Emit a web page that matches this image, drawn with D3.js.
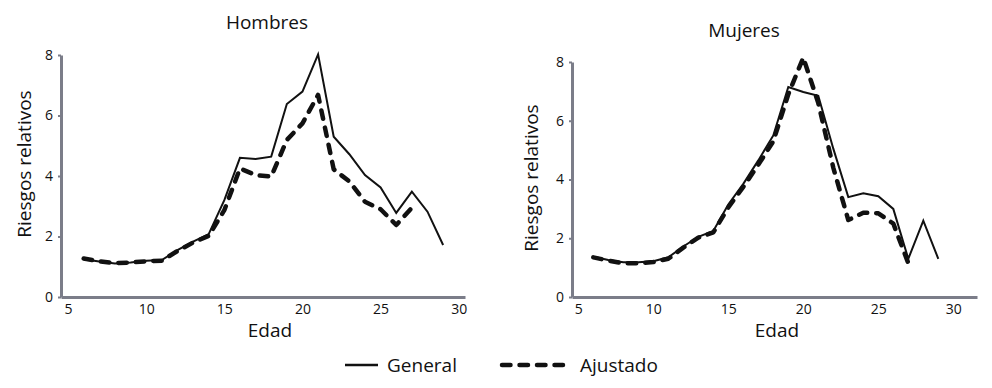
<!DOCTYPE html>
<html><head><meta charset="utf-8">
<script src="https://cdn.jsdelivr.net/npm/d3@7/dist/d3.min.js"></script>
<style>
body{margin:0;background:#fff}
text{font-family:"Open Sans",sans-serif;fill:#111}
</style>
</head><body>
<svg id="chart" width="992" height="388"></svg>
<script>
// ---- data ----
const agesGeneral  = [6,7,8,9,10,11,12,13,14,15,16,17,18,19,20,21,22,23,24,25,26,27,28,29];
const agesAjustado = [6,7,8,9,10,11,12,13,14,15,16,17,18,19,20,21,22,23,24,25,26,27];
const hombresGeneral  = [1.25,1.17,1.11,1.14,1.20,1.22,1.55,1.83,2.08,3.20,4.60,4.56,4.64,6.38,6.79,8.02,5.30,4.72,4.03,3.62,2.78,3.48,2.82,1.72];
const hombresAjustado = [1.27,1.18,1.12,1.14,1.18,1.20,1.52,1.80,2.02,2.87,4.25,4.03,3.98,5.19,5.74,6.68,4.22,3.82,3.15,2.90,2.38,2.95];
const mujeresGeneral  = [1.37,1.26,1.18,1.18,1.22,1.35,1.72,2.05,2.25,3.15,3.85,4.65,5.50,7.15,6.98,6.85,5.05,3.40,3.53,3.43,3.00,1.30,2.60,1.30];
const mujeresAjustado = [1.35,1.24,1.15,1.15,1.19,1.30,1.68,2.02,2.20,3.05,3.75,4.50,5.30,6.90,8.15,6.60,4.40,2.62,2.87,2.85,2.50,1.15];
const xTicks = [5,10,15,20,25,30];
const yTicks = [0,2,4,6,8];
const panelTitles = ["Hombres","Mujeres"];
const seriesNames = ["General","Ajustado"];
const xTitle = "Edad";
const yTitle = "Riesgos relativos";

const svg = d3.select("#chart");
const axisColor = "#7b7d89";

const panels = [
  {title: panelTitles[0], gen: hombresGeneral, adj: hombresAjustado,
   xr:[61,465], xd:[4.55,30.4], yr:[297,55], tx:267, ty:29, ex:270, ylx:24, yly:164},
  {title: panelTitles[1], gen: mujeresGeneral, adj: mujeresAjustado,
   xr:[572,977], xd:[4.58,31.58], yr:[297,62], tx:744, ty:37, ex:777, ylx:531, yly:178}
];

panels.forEach(p => {
  const x = d3.scaleLinear().domain(p.xd).range(p.xr);
  const y = d3.scaleLinear().domain([0,8]).range(p.yr);
  const g = svg.append("g");

  const ya = g.append("g").attr("transform",`translate(${p.xr[0]},0)`)
    .call(d3.axisLeft(y).tickValues(yTicks).tickSize(3).tickSizeOuter(0).tickPadding(5));
  const xa = g.append("g").attr("transform",`translate(0,${p.yr[0]})`)
    .call(d3.axisBottom(x).tickValues(xTicks).tickSize(0).tickSizeOuter(0).tickPadding(7));
  [ya,xa].forEach(a=>{
    a.select(".domain").attr("stroke",axisColor).attr("stroke-width",3);
    a.selectAll(".tick line").attr("stroke",axisColor).attr("stroke-width",2);
    a.selectAll(".tick text").attr("fill","#111").style("font-size","14px").style("font-family","'Open Sans',sans-serif");
  });

  const line = d3.line().x(d=>x(d[0])).y(d=>y(d[1]));
  g.append("path").datum(agesGeneral.map((a,i)=>[a,p.gen[i]]))
    .attr("d",line).attr("fill","none").attr("stroke","#111").attr("stroke-width",2).attr("stroke-linejoin","miter");
  g.append("path").datum(agesAjustado.map((a,i)=>[a,p.adj[i]]))
    .attr("d",line).attr("fill","none").attr("stroke","#111").attr("stroke-width",4.5)
    .attr("stroke-dasharray","8.5 9").attr("stroke-linecap","round").attr("stroke-linejoin","round");

  g.append("text").attr("x",p.tx).attr("y",p.ty).attr("text-anchor","middle").style("font-size","19px").text(p.title);
  g.append("text").attr("x",p.ex).attr("y",337).attr("text-anchor","middle").style("font-size","19px").text(xTitle);
  g.append("text").attr("transform",`translate(${p.ylx},${p.yly}) rotate(-90)`)
    .attr("text-anchor","middle").attr("dominant-baseline","central").style("font-size","19px").text(yTitle);
});

// legend
const lg = svg.append("g");
lg.append("line").attr("x1",345).attr("x2",378).attr("y1",365).attr("y2",365).attr("stroke","#111").attr("stroke-width",2.5);
lg.append("text").attr("x",387).attr("y",372).style("font-size","19px").text(seriesNames[0]);
lg.append("line").attr("x1",502).attr("x2",566).attr("y1",365).attr("y2",365).attr("stroke","#111").attr("stroke-width",4.5)
  .attr("stroke-dasharray","8.5 9").attr("stroke-linecap","round");
lg.append("text").attr("x",580).attr("y",372).style("font-size","19px").text(seriesNames[1]);
</script>
</body></html>
